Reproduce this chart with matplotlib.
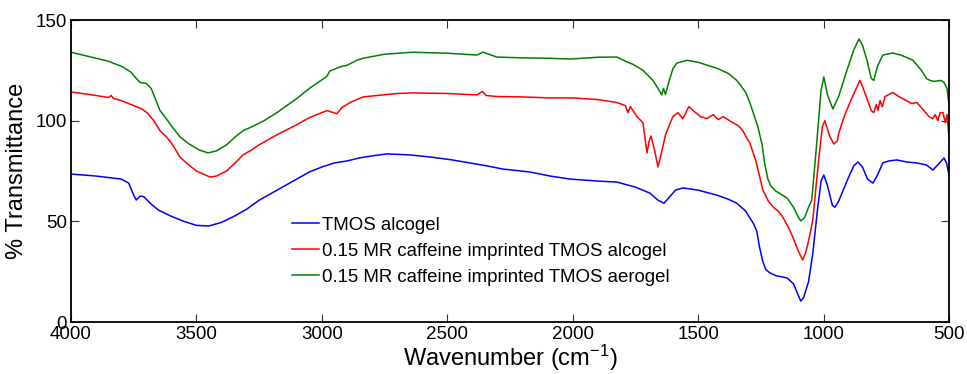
import matplotlib
matplotlib.use('Agg')
import matplotlib.pyplot as plt

plt.rcParams['font.family'] = ['Liberation Sans', 'DejaVu Sans']
plt.rcParams['mathtext.fontset'] = 'custom'
plt.rcParams['mathtext.rm'] = 'Liberation Sans'
plt.rcParams['mathtext.it'] = 'Liberation Sans:italic'

# TMOS alcogel
wn_blue = [4000, 3900, 3800, 3770, 3750, 3740, 3725, 3710, 3680, 3650, 3600, 3550,
           3500, 3450, 3400, 3350, 3300, 3250, 3200, 3150, 3100, 3050, 3000, 2950,
           2900, 2850, 2800, 2740, 2650, 2570, 2480, 2410, 2340, 2280, 2170, 2090,
           2011, 1900, 1824, 1750, 1692, 1660, 1636, 1615, 1590, 1561, 1500, 1425,
           1380, 1346, 1310, 1294, 1280, 1266, 1255, 1242, 1230, 1215, 1190, 1146,
           1120, 1100, 1091, 1080, 1060, 1043, 1025, 1010, 999, 985, 965, 955, 940,
           900, 880, 863, 845, 825, 803, 785, 764, 740, 708, 670, 628, 590, 564,
           545, 520, 510, 500]
t_blue = [73.5, 72.5, 71, 69, 63, 60.6, 62.5, 62.3, 58.5, 55.5, 52.5, 50,
          48, 47.7, 49.5, 52.5, 56, 60.5, 64, 67.5, 71, 74.5, 77, 79,
          80, 81.5, 82.5, 83.5, 83, 82, 80.5, 79, 77.5, 76, 74.5, 72.5,
          71, 70, 69.5, 67, 64, 60.5, 59, 62, 65.5, 66.6, 65.5, 63,
          61, 59, 55, 51.7, 49, 45, 37, 30, 26, 24.5, 23, 21.9,
          19, 13, 10.4, 12, 20, 34, 55, 70, 73, 68, 58, 57, 60,
          72, 77.5, 79.5, 77, 71, 69, 73, 79, 80, 80.5, 79.5, 79, 78, 75.5,
          78, 81.5, 79, 73]

# 0.15 MR caffeine imprinted TMOS alcogel
wn_red = [4000, 3900, 3850, 3840, 3830, 3800, 3780, 3750, 3720, 3697, 3670, 3645,
          3620, 3600, 3590, 3566, 3540, 3500, 3446, 3420, 3380, 3350, 3314, 3280,
          3250, 3179, 3100, 3050, 2980, 2940, 2920, 2888, 2836, 2700, 2637, 2500,
          2382, 2360, 2345, 2302, 2200, 2091, 2000, 1900, 1824, 1790, 1780, 1770,
          1744, 1720, 1704, 1695, 1688, 1675, 1660, 1650, 1630, 1601, 1580, 1561,
          1537, 1515, 1490, 1465, 1440, 1420, 1400, 1362, 1340, 1322, 1300, 1294,
          1270, 1242, 1220, 1200, 1180, 1162, 1140, 1122, 1100, 1083, 1070, 1055,
          1043, 1020, 1005, 995, 975, 959, 945, 939, 915, 895, 870, 855, 845, 830,
          810, 800, 790, 783, 775, 766, 755, 724, 700, 670, 650, 628, 600, 580,
          564, 555, 545, 535, 524, 515, 508, 503, 500]
t_red = [114.3, 112.5, 111.5, 112.5, 111, 110, 109, 107.5, 106, 104, 100, 95,
         92, 89, 87, 82, 79, 75, 72, 72.5, 75, 78.5, 83, 85.5,
         88, 93, 98, 101.5, 105, 103.5, 106.5, 109, 111.8, 113.5, 113.8, 113.5,
         112.8, 114.5, 112.5, 112, 111.8, 111.3, 111.3, 110.5, 109, 107.5, 104, 107,
         102, 99, 84, 90, 92.4, 86, 77, 82, 93, 102, 104, 101,
         107, 104.5, 102, 101, 103, 100.5, 102, 99, 97.5, 95, 90, 89,
         80, 65.6, 60, 57, 55, 52, 47, 42, 35, 30.8, 35, 43,
         50.7, 80, 97, 100, 92, 88.4, 90, 94, 103, 109, 116, 120, 117, 112,
         105, 104, 108, 105, 110, 107, 112, 114, 112, 110, 108.5, 109, 105, 102,
         101, 103, 100, 104, 104, 99, 103, 96, 91]

# 0.15 MR caffeine imprinted TMOS aerogel
wn_green = [4000, 3900, 3850, 3793, 3760, 3740, 3725, 3700, 3680, 3645, 3620, 3600,
            3566, 3530, 3490, 3454, 3420, 3380, 3340, 3314, 3270, 3230, 3179, 3100,
            3050, 2980, 2968, 2920, 2900, 2860, 2836, 2750, 2637, 2500, 2382, 2358,
            2302, 2200, 2091, 2011, 1900, 1824, 1780, 1760, 1720, 1680, 1655, 1645,
            1638, 1630, 1615, 1600, 1585, 1545, 1500, 1425, 1380, 1346, 1310, 1294,
            1262, 1245, 1235, 1222, 1210, 1190, 1170, 1146, 1120, 1100, 1091, 1075,
            1060, 1047, 1030, 1010, 999, 985, 963, 940, 907, 880, 859, 845, 827, 810,
            800, 785, 764, 724, 690, 644, 610, 590, 576, 560, 532, 520, 508, 500]
t_green = [134, 131, 129.5, 126.7, 124, 121, 119, 118.5, 116, 105, 101, 97.5,
           92, 88.5, 85.5, 84, 85, 88, 92.5, 95, 97.5, 100, 104, 111,
           116, 122, 124.7, 127, 127.5, 130, 131, 133, 134, 133.5, 132.6, 134,
           131.6, 131.2, 131, 130.6, 131.5, 131.6, 129, 128, 125, 120, 115, 112.8,
           116, 113, 120, 126, 128.6, 130, 129, 126, 123.5, 120, 114, 109,
           97, 88, 79, 71, 67.5, 65, 63.5, 61.6, 57, 52, 50.2, 52,
           57, 60.6, 85, 115, 121.7, 113, 105.8, 112, 125, 135, 140.6, 137.5, 130, 121,
           120, 127, 132.6, 133.6, 132.5, 130, 125, 121, 120, 119.5, 120, 119, 116, 107.8]

labels = ['TMOS alcogel',
          '0.15 MR caffeine imprinted TMOS alcogel',
          '0.15 MR caffeine imprinted TMOS aerogel']

fig = plt.figure(figsize=(9.67, 3.74), dpi=100)
ax = fig.add_axes([0.0734, 0.139, 0.908, 0.8075])

ax.plot(wn_blue, t_blue, color=(0, 0, 1), lw=1.1, label=labels[0])
ax.plot(wn_red, t_red, color=(1, 0, 0), lw=1.1, label=labels[1])
ax.plot(wn_green, t_green, color=(0, 0.5, 0), lw=1.1, label=labels[2])

ax.set_xlim(4000, 500)
ax.set_ylim(0, 150)
ax.set_xticks([4000, 3500, 3000, 2500, 2000, 1500, 1000, 500])
ax.set_yticks([0, 50, 100, 150])
ax.tick_params(direction='in', length=6, width=0.8, top=True, right=True,
               labelsize=13.5, pad=3, color='#333333')
for s in ax.spines.values():
    s.set_linewidth(1.3)

ax.set_xlabel('Wavenumber (cm$^{-1}$)', fontsize=17, labelpad=0)
ax.set_ylabel('% Transmittance', fontsize=17, labelpad=5)

ax.legend(loc='upper left', bbox_to_anchor=(0.2945, 0.44), bbox_transform=fig.transFigure,
          frameon=False, fontsize=13.4, handlelength=1.45, handletextpad=0.15,
          labelspacing=0.48, borderaxespad=0)

fig.savefig('out.png', dpi=100)
